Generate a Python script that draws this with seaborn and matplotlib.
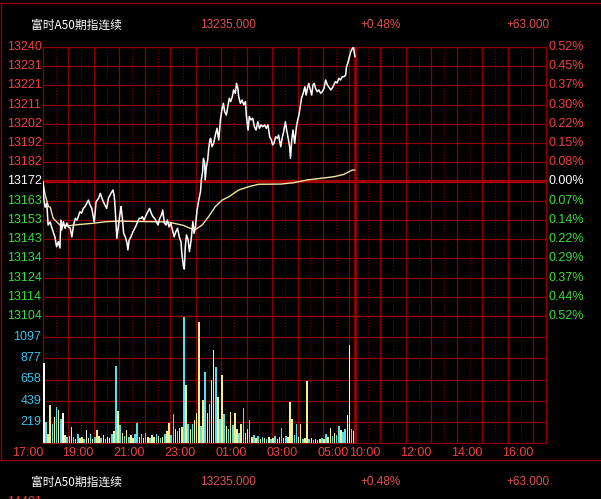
import matplotlib
matplotlib.use("Agg")
import matplotlib.pyplot as plt
from matplotlib.lines import Line2D
import pandas as pd
import seaborn as sns

# ---------------------------
# data (minutes counted from 17:00; night 17:00-05:15 = 0..735, day 09:00-16:30 = 735..1185)
# ---------------------------
price_min = [0, 2, 5, 9, 12, 17, 21, 28, 32, 36, 40, 42, 44, 48, 52, 56, 60, 64, 68, 72,
             76, 80, 83, 87, 91, 95, 99, 103, 107, 111, 115, 119, 121, 125, 131, 135, 139, 142, 146, 150,
             154, 160, 165, 168, 170, 172, 174, 178, 182, 184, 187, 190, 194, 198, 200, 203, 207, 212, 216, 220,
             223, 227, 231, 234, 238, 243, 247, 251, 255, 259, 263, 267, 271, 275, 279, 282, 286, 290, 293, 297,
             301, 305, 309, 313, 317, 321, 325, 327, 331, 333, 335, 338, 342, 345, 349, 353, 356, 359, 363, 367,
             371, 373, 376, 378, 381, 382, 385, 388, 390, 393, 395, 398, 402, 406, 410, 414, 418, 422, 425, 428,
             432, 436, 439, 442, 446, 449, 453, 456, 459, 461, 465, 469, 473, 477, 479, 483, 486, 490, 494, 498,
             502, 506, 510, 514, 518, 522, 526, 530, 534, 538, 541, 544, 548, 552, 555, 560, 564, 567, 571, 574,
             577, 581, 583, 586, 589, 591, 593, 597, 600, 603, 606, 609, 613, 617, 620, 623, 626, 630, 633, 636,
             639, 642, 646, 650, 654, 658, 662, 666, 670, 674, 678, 682, 685, 689, 693, 697, 701, 705, 709, 713,
             715, 718, 722, 725, 729, 731, 733, 735]
price_val = [13172, 13163, 13159, 13161, 13150, 13151.5, 13148.5, 13144, 13139, 13141.6, 13138.4, 13152.5, 13147.5, 13151.7, 13148.3, 13151, 13149, 13148.5, 13144, 13150,
             13153.4, 13152.5, 13154.2, 13156.7, 13156, 13158.4, 13159.3, 13161, 13162.6, 13160, 13158.4, 13153.4, 13151.7, 13161.8, 13163.5, 13166, 13163.5, 13161.8, 13160, 13158.4,
             13163.5, 13166, 13167.7, 13164.3, 13158.4, 13150.9, 13143.3, 13150, 13156.7, 13159.3, 13153.4, 13145.8, 13144, 13140.8, 13137.4, 13142.4, 13144, 13146.6, 13148.3, 13150,
             13151.7, 13153.4, 13153.4, 13154.2, 13152.5, 13155, 13156.7, 13158.4, 13156, 13154.2, 13153.4, 13151.7, 13150, 13153.4, 13155, 13157.6, 13150.9, 13150, 13152.5, 13149,
             13150.9, 13147.5, 13144, 13146.6, 13148.3, 13144, 13141.6, 13135.7, 13128.9, 13127.8, 13138.4, 13145, 13142.4, 13136.5, 13142.4, 13151.7, 13145.8, 13149.1, 13157.6, 13162.6,
             13166.8, 13172.8, 13177, 13183.7, 13181.2, 13172.8, 13179.5, 13182.9, 13187.9, 13193, 13193.8, 13189.6, 13191.3, 13195.5, 13198.9, 13193, 13203.1, 13209, 13211.5, 13207.3,
             13205.6, 13210.7, 13214.1, 13212.4, 13214.9, 13218.3, 13216.6, 13221.6, 13219.1, 13214.9, 13211.5, 13213.2, 13210.7, 13212.4, 13205.6, 13198, 13204.8, 13203.1, 13204, 13199.7,
             13198, 13202.2, 13198.9, 13200.6, 13199.7, 13200.6, 13198.9, 13200.6, 13194.6, 13193, 13190.5, 13191.3, 13194.6, 13193.8, 13195.5, 13189.6, 13194.6, 13197.2, 13202.2, 13198,
             13194.6, 13189.6, 13183.7, 13193, 13198, 13194.6, 13191.3, 13199.7, 13203.1, 13205.6, 13209.8, 13214.1, 13216.6, 13219.9, 13215.7, 13219.1, 13221.6, 13218.3, 13215.7, 13220.8,
             13221.6, 13219.1, 13217.4, 13218.3, 13216.6, 13217.4, 13219.1, 13223.3, 13220.8, 13219.5, 13218.3, 13219.5, 13220.8, 13222.5, 13221.8, 13224.2, 13223.3, 13225, 13225, 13225.8,
             13230, 13231.8, 13235.1, 13237.6, 13239.3, 13240.2, 13237.6, 13235]

avg_min = [0, 5, 13, 17, 24, 28, 40, 56, 87, 119, 150, 182, 213, 252, 292, 308, 331, 347, 359, 375,
           390, 406, 422, 438, 461, 485, 508, 560, 591, 623, 654, 685, 709, 721, 729, 735]
avg_val = [13171.8, 13165.2, 13159.3, 13159, 13153.4, 13152.5, 13150, 13149.5, 13150.3, 13150.9, 13151.7, 13152, 13151.8, 13151.7, 13151.5, 13150.9, 13149.8, 13148.3, 13147.7, 13150,
           13154.2, 13159.3, 13162.6, 13164.3, 13167.7, 13169.4, 13170.6, 13170.7, 13171.4, 13172.8, 13173.6, 13174.4, 13175.6, 13177, 13177.8, 13177.8]

# volume in 5 minute buckets, 17:00 .. 05:10
vol_val = [832, 221, 90, 394, 200, 272, 376, 342, 250, 308, 80, 60,
           70, 169, 60, 40, 90, 50, 60, 40, 135, 50, 90, 40,
           60, 135, 70, 50, 80, 40, 60, 50, 90, 120, 798, 330,
           190, 100, 70, 135, 60, 80, 50, 90, 204, 60, 90, 50,
           100, 60, 50, 80, 60, 90, 70, 50, 60, 90, 120, 204,
           80, 300, 150, 120, 160, 170, 1308, 600, 200, 150, 200, 238,
           310, 1257, 180, 445, 739, 307, 400, 653, 964, 791, 480, 250,
           705, 300, 180, 150, 324, 190, 307, 150, 100, 200, 359, 100,
           150, 238, 60, 80, 50, 70, 40, 60, 50, 40, 60, 40,
           50, 70, 40, 60, 152, 50, 70, 60, 428, 250, 80, 197,
           60, 197, 40, 50, 642, 40, 50, 30, 40, 30, 40, 50,
           40, 90, 60, 152, 70, 100, 80, 176, 130, 110, 150, 290,
           1015, 150, 120]
vol_kind = list("wcyycycycwyc" "yycycyycwycy" "cyycycyycycy" "cycycyyccycy"
                "cycyycycycyy" "ccycyycycycy" "yycycycyycyc" "ycycycyycycy"
                "ycycycycycyc" "ycyycycyyycc" "yycyycycycyc" "ycyycycc ycc y".replace(" ", "")
                + "wcy")

left_labels = ["13240", "13231", "13221", "13211", "13202", "13192", "13182", "13172",
               "13163", "13153", "13143", "13134", "13124", "13114", "13104"]
pct_labels = ["0.52%", "0.45%", "0.37%", "0.30%", "0.22%", "0.15%", "0.08%", "0.00%",
              "0.07%", "0.14%", "0.22%", "0.29%", "0.37%", "0.44%", "0.52%"]
vol_labels = ["1097", "877", "658", "439", "219"]
time_labels = ["17:00", "19:00", "21:00", "23:00", "01:00", "03:00", "05:00",
               "10:00", "12:00", "14:00", "16:00"]
time_pos = [0, 120, 240, 360, 480, 600, 720, 795, 915, 1035, 1155]

title_name = "富时A50期指连续"
title_last = "13235.000"
title_pct = "+0.48%"
title_chg = "+63.000"

# ---------------------------
# figure
# ---------------------------
sns.set_style("dark")
plt.rcParams['font.family'] = ['Liberation Sans', 'DejaVu Sans']

W, H = 601, 499
fig = plt.figure(figsize=(W / 100, H / 100), dpi=100, facecolor='black')


def rect(x0, y0, x1, y1):
    return [x0 / W, 1 - y1 / H, (x1 - x0) / W, (y1 - y0) / H]


ax = fig.add_axes(rect(43, 47, 546, 316))
axv = fig.add_axes(rect(43, 316, 546, 443))

GRID = '#8c0000'
RED = '#f04040'
GREEN = '#3cdc3c'
CYAN = '#40c0e8'

for a in (ax, axv):
    a.set_facecolor('black')
    a.set_xlim(0, 1185)
    a.set_xticks([])
    a.set_yticks([])
    for s in a.spines.values():
        s.set_color(GRID)
        s.set_linewidth(0.9)
    # hour lines solid, half hour dotted
    for m in list(range(60, 735, 60)) + list(range(795, 1185, 60)):
        a.axvline(m, color=GRID, lw=0.9, zorder=1)
    for m in list(range(30, 735, 60)) + list(range(765, 1185, 60)):
        a.axvline(m, color=GRID, lw=0.7, ls=(0, (1, 2)), zorder=1)
    a.axvline(735, color='#a00000', lw=2.0, zorder=1)

# price panel
top, bot = 13240, 13104
ax.set_ylim(bot, top)
levels = [top - i * (top - bot) / 14 for i in range(15)]
for i, lv in enumerate(levels):
    if i == 7:
        ax.axhline(lv, color='#a00000', lw=2.4, zorder=1)
        c = 'white'
    else:
        ax.axhline(lv, color=GRID, lw=0.9, zorder=1)
        c = RED if i < 7 else GREEN
    ax.text(-0.003, lv, left_labels[i], color=c, fontsize=9, ha='right', va='center',
            transform=ax.get_yaxis_transform())
    ax.text(1.004, lv, pct_labels[i], color=c, fontsize=9, ha='left', va='center',
            transform=ax.get_yaxis_transform())

df_p = pd.DataFrame({'t': price_min, 'p': price_val})
df_a = pd.DataFrame({'t': avg_min, 'p': avg_val})
sns.lineplot(data=df_a, x='t', y='p', ax=ax, color='#f0e6a0', lw=1.0, sort=False, estimator=None, zorder=3)
sns.lineplot(data=df_p, x='t', y='p', ax=ax, color='white', lw=1.1, sort=False, estimator=None, zorder=4)
ax.set_xlabel('')
ax.set_ylabel('')
ax.set_xlim(0, 1185)
ax.set_ylim(bot, top)

# volume panel
vmax = 1316
axv.set_ylim(0, vmax)
for i in range(1, 6):
    axv.axhline(i * vmax / 6, color=GRID, lw=0.9, zorder=1)
for i, lab in enumerate(vol_labels):
    axv.text(-0.003, (5 - i) * vmax / 6, lab, color=CYAN, fontsize=9, ha='right', va='center',
             transform=axv.get_yaxis_transform())

df_v = pd.DataFrame({'t': [5 * k + 2 for k in range(len(vol_val))], 'v': vol_val,
                     'kind': vol_kind[:len(vol_val)]})
pal = {'c': '#55e0e8', 'y': '#f6f08c', 'w': '#ffffff'}
for kind, sub in df_v.groupby('kind'):
    axv.bar(sub['t'], sub['v'], width=3.6, color=pal[kind], linewidth=0, zorder=3)
axv.set_xlabel('')
axv.set_ylabel('')
axv.set_xlim(0, 1185)
axv.set_ylim(0, vmax)

for lab, pos in zip(time_labels, time_pos):
    axv.text(pos, -0.075, lab, color=RED, fontsize=9, ha='right', va='center',
             transform=axv.get_xaxis_transform())

# header rows and frame lines
for yy in (25, 482):
    fig.text(31 / W, 1 - yy / H, title_name, color='white', fontsize=8.5, va='center', ha='left',
             family=['Noto Sans CJK SC', 'DejaVu Sans'])
    fig.text(200 / W, 1 - yy / H, title_last, color='#e05050', fontsize=8.5, va='center', ha='left')
    fig.text(360 / W, 1 - yy / H, title_pct, color='#e05050', fontsize=8.5, va='center', ha='left')
    fig.text(506 / W, 1 - yy / H, title_chg, color='#e05050', fontsize=8.5, va='center', ha='left')

fig.add_artist(Line2D([0, 1], [1 - 3 / H] * 2, color=GRID, lw=1.0))
fig.add_artist(Line2D([0, 1], [1 - 460 / H] * 2, color=GRID, lw=1.0))
fig.add_artist(Line2D([1 / W] * 2, [1 - 3 / H, 1 - 460 / H], color=GRID, lw=1.0))
fig.text(42 / W, 1 - 502 / H, "14401", color=RED, fontsize=9, ha='right', va='center')

fig.savefig('out.png', dpi=100, facecolor='black')
